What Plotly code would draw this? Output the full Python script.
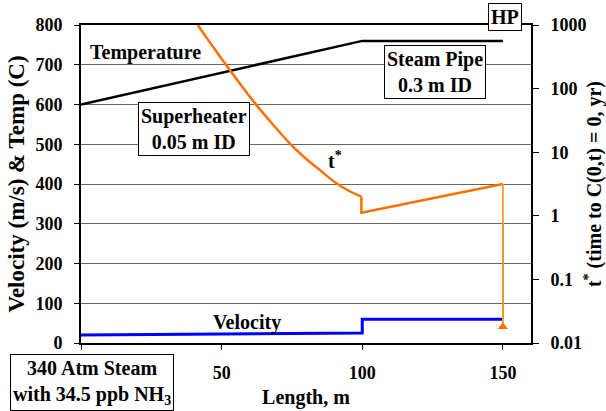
import plotly.graph_objects as go

# ---- data ----
temp_x = [0, 100, 150]
temp_y = [600, 760, 760]

# velocity: stepped profile, then the rise at the outlet (x = 150)
vel_x = [0, 100, 100, 150]
vel_y = [20, 25, 60, 60]
vel_rise_x = [150, 150]
vel_rise_y = [60, 300]

# t*: superheater curve, then the steam-pipe segment, then the drop at HP
tstar_curve_x = [41.5, 45, 52.9, 57, 62.4, 68, 74.2, 80, 85, 90.8, 95, 99.7]
tstar_curve_y = [1000, 600, 196, 112, 55, 28, 13.8, 7.9, 5.2, 3.24, 2.5, 2.0]
tstar_pipe_x = [99.7, 99.7, 150]
tstar_pipe_y = [2.0, 1.12, 3.16]
tstar_drop_x = [150, 150]
tstar_drop_y = [3.16, 0.018]

x_ticks = [0, 50, 100, 150]
x_ticktext = ["", "50", "100", "150"]
y_ticks = [0, 100, 200, 300, 400, 500, 600, 700, 800]
y2_ticks = [0.01, 0.1, 1, 10, 100, 1000]
y2_ticktext = ["0.01", "0.1", "1", "10", "100", "1000"]

FONT = "Liberation Serif"
L, R, T, B = 81, 531, 25, 343
W, H = 606, 411
ORANGE = "#FF7000"


def px(xp):
    return (xp - L) / (R - L)


def py(yp):
    return (B - yp) / (B - T)


fig = go.Figure()
fig.add_trace(go.Scatter(x=temp_x, y=temp_y, mode="lines",
                         line=dict(color="black", width=2.5), showlegend=False))
fig.add_trace(go.Scatter(x=vel_x, y=vel_y, mode="lines",
                         line=dict(color="#0000FF", width=3), showlegend=False))
fig.add_trace(go.Scatter(x=vel_rise_x, y=vel_rise_y, mode="lines",
                         line=dict(color="#3333FF", width=1.5), showlegend=False))
fig.add_trace(go.Scatter(x=tstar_curve_x, y=tstar_curve_y, mode="lines", yaxis="y2",
                         line=dict(color=ORANGE, width=2.5, shape="spline", smoothing=0.8),
                         showlegend=False))
fig.add_trace(go.Scatter(x=tstar_pipe_x, y=tstar_pipe_y, mode="lines", yaxis="y2",
                         line=dict(color=ORANGE, width=2.5), showlegend=False))
fig.add_trace(go.Scatter(x=tstar_drop_x, y=tstar_drop_y, mode="lines", yaxis="y2",
                         line=dict(color="#FF9A1A", width=1.8), showlegend=False))
fig.add_trace(go.Scatter(x=tstar_drop_x[-1:], y=tstar_drop_y[-1:], mode="markers",
                         yaxis="y2",
                         marker=dict(symbol="triangle-up", size=9, color=ORANGE),
                         showlegend=False))

fnt = dict(family=FONT, size=18, color="black", weight="bold")
afnt = dict(family=FONT, size=20, color="black", weight="bold")

fig.update_layout(
    width=W, height=H,
    margin=dict(l=L, r=W - R, t=T, b=H - B),
    paper_bgcolor="white", plot_bgcolor="white",
    font=fnt,
    xaxis=dict(range=[0, 160], tickvals=x_ticks, ticktext=x_ticktext,
               ticks="outside", ticklen=5, automargin=False,
               tickcolor="black", showline=True, linecolor="black", linewidth=2,
               mirror=True, showgrid=False, zeroline=False, tickfont=fnt,
               ticklabelstandoff=7,
               title=dict(text="Length, m", font=afnt, standoff=8)),
    yaxis=dict(range=[0, 800], tickvals=y_ticks, ticks="outside", ticklen=5,
               automargin=False,
               tickcolor="black", showline=True, linecolor="black", linewidth=2,
               showgrid=True, gridcolor="#666666", gridwidth=1, zeroline=False,
               tickfont=fnt, ticklabelstandoff=8,
               title=dict(text="Velocity (m/s) & Temp (C)",
                          font=dict(family=FONT, size=23, color="black", weight="bold"),
                          standoff=4)),
    yaxis2=dict(type="log", range=[-2, 3], overlaying="y", side="right",
                automargin=False,
                tickvals=y2_ticks, ticktext=y2_ticktext, ticks="outside", ticklen=6,
                tickcolor="black", showline=True, linecolor="black", linewidth=2,
                showgrid=False, zeroline=False, tickfont=fnt, ticklabelstandoff=8,
                title=dict(text="t<sup>*</sup> (time to C(0,t) = 0, yr)", font=afnt,
                           standoff=15)),
)

box = dict(bgcolor="white", bordercolor="black", borderwidth=1, borderpad=2,
           showarrow=False, xref="paper", yref="paper", font=afnt,
           xanchor="center", yanchor="middle")
fig.add_annotation(text="Steam Pipe<br>0.3 m ID", x=px(435), y=py(72), **box)
fig.add_annotation(text="Superheater<br>0.05 m ID", x=px(193.5), y=py(128.5), **box)
fig.add_annotation(text="340 Atm Steam<br>with 34.5 ppb NH<sub>3</sub>", x=px(91.5),
                   y=py(382), **box)
fig.add_annotation(text="HP", x=px(505), y=py(16.5), **box)

plain = dict(showarrow=False, xref="paper", yref="paper", font=afnt,
             xanchor="center", yanchor="middle")
fig.add_annotation(text="Temperature", x=px(145), y=py(53), **plain)
fig.add_annotation(text="Velocity", x=px(247), y=py(322), **plain)
fig.add_annotation(text="t<sup>*</sup>", x=px(335), y=py(160), **plain)

fig.write_html("out.html")
